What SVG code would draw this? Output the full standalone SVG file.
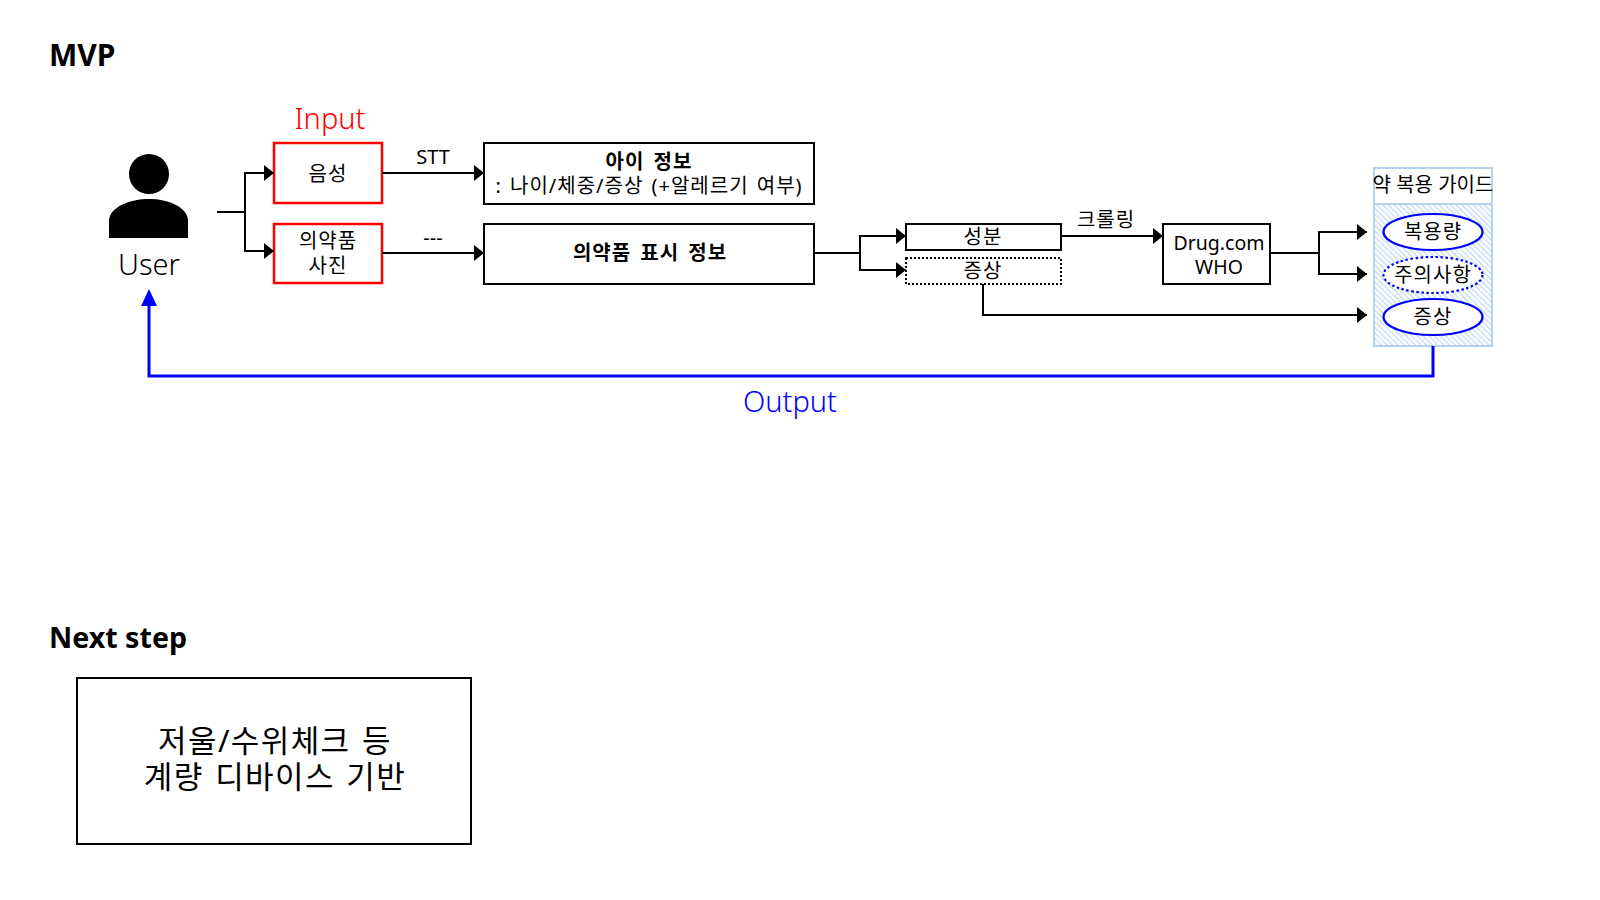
<svg xmlns="http://www.w3.org/2000/svg" width="1600" height="900" viewBox="0 0 1600 900">
<style>
text{font-family:"Noto Sans","Noto Sans CJK KR",sans-serif;text-anchor:middle;fill:#000}
.t20{font-size:20px;letter-spacing:1px;word-spacing:2px}
.big{font-size:29px;font-weight:300}
.head{text-anchor:start;font-weight:700}
.bold{font-size:20px;font-weight:700;letter-spacing:1px;word-spacing:3px}
.n{font-size:31px;letter-spacing:1.4px;word-spacing:2px}
.box{fill:#fff;stroke:#000;stroke-width:2}
.red{fill:#fff;stroke:#f00;stroke-width:2.5}
.el{fill:#fff;stroke:#00f;stroke-width:2.2}
.con{fill:none;stroke:#000;stroke-width:2}
.blue{fill:none;stroke:#00f;stroke-width:3}
</style>
<defs>
<marker id="a" markerUnits="userSpaceOnUse" markerWidth="10" markerHeight="16" refX="10" refY="8" orient="auto"><path d="M0 0L10 8L0 16z" fill="#000"/></marker>
<pattern id="h" width="4" height="4" patternUnits="userSpaceOnUse" patternTransform="rotate(-45)"><rect width="4" height="4" fill="#fff"/><rect width="1.5" height="4" fill="#c5def5"/></pattern>
</defs>
<text class="head" x="49" y="66" style="font-size:30px">MVP</text>
<text class="head" x="49" y="648" style="font-size:28.6px">Next step</text>
<g id="user"><circle cx="149" cy="174" r="20"/><path d="M109 238V221C109 207 130 199 149 199S188 207 188 221V238Z"/><text class="big" x="149" y="275">User</text></g>
<text class="big" x="330" y="129" style="fill:#f00">Input</text>
<g id="voice"><rect class="red" x="274" y="143" width="108" height="60"/><text class="t20" x="328" y="181">음성</text></g>
<g id="photo"><rect class="red" x="274" y="224" width="108" height="59"/><text class="t20" x="328" y="248">의약품</text><text class="t20" x="328" y="273">사진</text></g>
<g id="child"><rect class="box" x="484" y="143" width="330" height="61"/><text class="bold" x="649" y="169">아이 정보</text><text class="t20" x="649" y="193">: 나이/체중/증상 (+알레르기 여부)</text></g>
<g id="label"><rect class="box" x="484" y="224" width="330" height="60"/><text class="bold" x="650" y="260">의약품 표시 정보</text></g>
<g id="ingredient"><rect class="box" x="906" y="224" width="155" height="26"/><text class="t20" x="983" y="244">성분</text></g>
<g id="symptom"><rect x="906" y="258" width="155" height="26" fill="#fff" stroke="#000" stroke-width="2" stroke-dasharray="2 2"/><text class="t20" x="983" y="278">증상</text></g>
<g id="drug"><rect class="box" x="1163" y="224" width="107" height="60"/><text x="1219" y="250" style="font-size:19.5px">Drug.com</text><text x="1219" y="274" style="font-size:19.5px">WHO</text></g>
<g id="guide"><rect x="1374" y="168" width="118" height="178" fill="url(#h)" stroke="#b4d3f0" stroke-width="2"/><rect x="1374" y="168" width="118" height="36" fill="#fff" stroke="#b4d3f0" stroke-width="2"/><text x="1433" y="192" style="font-size:20px">약 복용 가이드</text>
<ellipse class="el" cx="1433" cy="232" rx="49.5" ry="18"/><text class="t20" x="1433" y="239">복용량</text>
<ellipse class="el" cx="1433" cy="275" rx="49.5" ry="18" stroke-dasharray="2.5 2.5"/><text class="t20" x="1433" y="282">주의사항</text>
<ellipse class="el" cx="1433" cy="317" rx="49.5" ry="18"/><text class="t20" x="1433" y="324">증상</text></g>
<g id="next"><rect class="box" x="77" y="678" width="394" height="166"/><text class="n" x="275" y="752">저울/수위체크 등</text><text class="n" x="275" y="788">계량 디바이스 기반</text></g>
<g id="connectors">
<path class="con" d="M217 212H245V173H274" marker-end="url(#a)"/>
<path class="con" d="M217 212H245V251H274" marker-end="url(#a)"/>
<path class="con" d="M382 173H484" marker-end="url(#a)"/>
<path class="con" d="M382 253H484" marker-end="url(#a)"/>
<path class="con" d="M814 253H860V236H906" marker-end="url(#a)"/>
<path class="con" d="M814 253H860V270H906" marker-end="url(#a)"/>
<path class="con" d="M1061 236H1163" marker-end="url(#a)"/>
<path class="con" d="M1270 253H1319V232H1367" marker-end="url(#a)"/>
<path class="con" d="M1270 253H1319V274H1367" marker-end="url(#a)"/>
<path class="con" d="M983 284V315H1367" marker-end="url(#a)"/>
<path class="blue" d="M1433 346V376H149V300"/>
<path d="M149 289L157 306H141z" fill="#00f"/>
</g>
<text x="433" y="164" style="font-size:20px">STT</text>
<text x="433" y="245" style="font-size:20px">---</text>
<text class="t20" x="1106" y="227">크롤링</text>
<text class="big" x="790" y="412" style="fill:#00f">Output</text>
</svg>
